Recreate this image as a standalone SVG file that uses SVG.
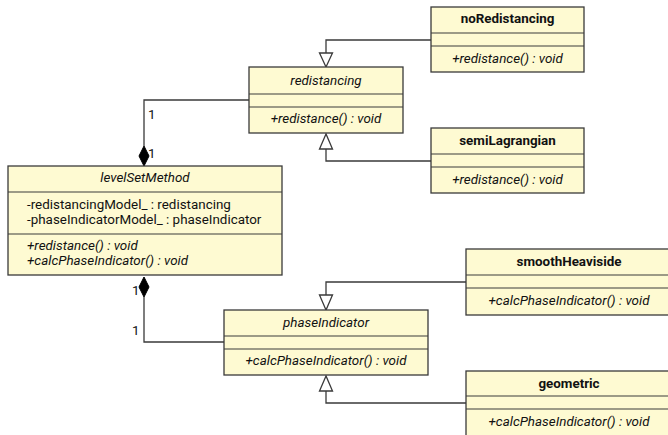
<svg xmlns="http://www.w3.org/2000/svg" width="668" height="435" viewBox="0 0 668 435">
  <defs>
    <style>
      .box { fill: #FEFAD2; stroke: #3a3a3a; stroke-width: 1.3; }
      .sep { stroke: #3a3a3a; stroke-width: 1.1; }
      .edge { fill: none; stroke: #3a3a3a; stroke-width: 1.3; }
      .gen { fill: #ffffff; stroke: #3a3a3a; stroke-width: 1.3; }
      .comp { fill: #000000; stroke: #000000; stroke-width: 1; }
      text { font-family: Roboto, "Liberation Sans", sans-serif; font-size: 13.4px; fill: #111111; }
      .bold { font-weight: bold; }
      .mid { text-anchor: middle; }
      .it { font-style: italic; }
    </style>
  </defs>

  <!-- connectors -->
  <g id="connectors">
    <!-- noRedistancing -> redistancing -->
    <polyline class="edge" points="431,40 326,40 326,53"/>
    <polygon class="gen" points="326,67 319.5,53 332.5,53"/>
    <!-- semiLagrangian -> redistancing -->
    <polyline class="edge" points="431,161 326,161 326,149"/>
    <polygon class="gen" points="326,134 319.5,149 332.5,149"/>
    <!-- levelSetMethod <>- redistancing -->
    <polyline class="edge" points="249,100 144,100 144,146"/>
    <polygon class="comp" points="144,146 149,156 144,166 139,156"/>
    <text x="148" y="119">1</text>
    <text x="148" y="158">1</text>
    <!-- levelSetMethod <>- phaseIndicator -->
    <polyline class="edge" points="224,342 144,342 144,297"/>
    <polygon class="comp" points="144,277 149,287 144,297 139,287"/>
    <text x="132" y="295">1</text>
    <text x="132" y="335">1</text>
    <!-- smoothHeaviside -> phaseIndicator -->
    <polyline class="edge" points="466,282 326,282 326,295"/>
    <polygon class="gen" points="326,310 319.5,295 332.5,295"/>
    <!-- geometric -> phaseIndicator -->
    <polyline class="edge" points="466,403 326,403 326,391"/>
    <polygon class="gen" points="326,376 319.5,391 332.5,391"/>
  </g>

  <!-- noRedistancing -->
  <g id="noRedistancing">
    <rect class="box" x="431" y="7" width="153" height="65"/>
    <line class="sep" x1="431" y1="33" x2="584" y2="33"/>
    <line class="sep" x1="431" y1="46" x2="584" y2="46"/>
    <text class="mid bold" x="507.5" y="23">noRedistancing</text>
    <text class="mid it" x="507.5" y="63">+redistance() : void</text>
  </g>

  <!-- redistancing -->
  <g id="redistancing">
    <rect class="box" x="249" y="67" width="154" height="66"/>
    <line class="sep" x1="249" y1="94" x2="403" y2="94"/>
    <line class="sep" x1="249" y1="107" x2="403" y2="107"/>
    <text class="mid it" x="326" y="85">redistancing</text>
    <text class="mid it" x="326" y="123">+redistance() : void</text>
  </g>

  <!-- semiLagrangian -->
  <g id="semiLagrangian">
    <rect class="box" x="431" y="128" width="153" height="65"/>
    <line class="sep" x1="431" y1="154" x2="584" y2="154"/>
    <line class="sep" x1="431" y1="167" x2="584" y2="167"/>
    <text class="mid bold" x="507.5" y="145">semiLagrangian</text>
    <text class="mid it" x="507.5" y="184">+redistance() : void</text>
  </g>

  <!-- levelSetMethod -->
  <g id="levelSetMethod">
    <rect class="box" x="8" y="166" width="274" height="109"/>
    <line class="sep" x1="8" y1="192" x2="282" y2="192"/>
    <line class="sep" x1="8" y1="234" x2="282" y2="234"/>
    <text class="mid it" x="145" y="182">levelSetMethod</text>
    <text x="27" y="209">-redistancingModel_ : redistancing</text>
    <text x="27" y="224">-phaseIndicatorModel_ : phaseIndicator</text>
    <text class="it" x="27" y="250">+redistance() : void</text>
    <text class="it" x="27" y="265">+calcPhaseIndicator() : void</text>
  </g>

  <!-- phaseIndicator -->
  <g id="phaseIndicator">
    <rect class="box" x="224" y="310" width="204" height="65"/>
    <line class="sep" x1="224" y1="336" x2="428" y2="336"/>
    <line class="sep" x1="224" y1="349" x2="428" y2="349"/>
    <text class="mid it" x="326" y="327">phaseIndicator</text>
    <text class="mid it" x="326" y="365">+calcPhaseIndicator() : void</text>
  </g>

  <!-- smoothHeaviside -->
  <g id="smoothHeaviside">
    <rect class="box" x="466" y="249" width="206" height="66"/>
    <line class="sep" x1="466" y1="275" x2="672" y2="275"/>
    <line class="sep" x1="466" y1="288" x2="672" y2="288"/>
    <text class="mid bold" x="569" y="266">smoothHeaviside</text>
    <text class="mid it" x="569" y="305">+calcPhaseIndicator() : void</text>
  </g>

  <!-- geometric -->
  <g id="geometric">
    <rect class="box" x="466" y="371" width="206" height="66"/>
    <line class="sep" x1="466" y1="396" x2="672" y2="396"/>
    <line class="sep" x1="466" y1="409" x2="672" y2="409"/>
    <text class="mid bold" x="569" y="388">geometric</text>
    <text class="mid it" x="569" y="426">+calcPhaseIndicator() : void</text>
  </g>
</svg>
